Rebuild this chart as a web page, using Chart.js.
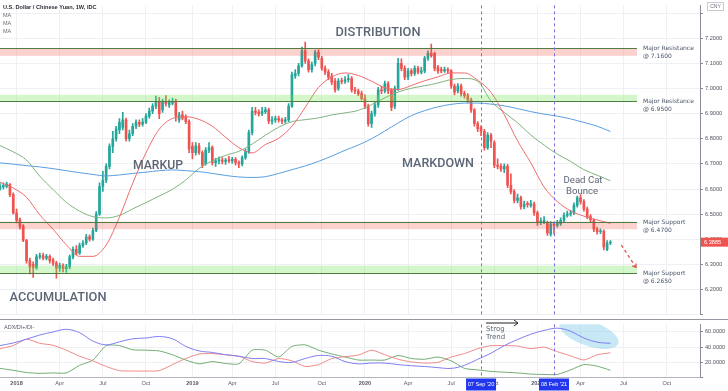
<!DOCTYPE html>
<html>
<head>
<meta charset="utf-8">
<script src="https://cdn.jsdelivr.net/npm/chart.js@4.4.0/dist/chart.umd.min.js"></script>
<style>
  html, body { margin: 0; padding: 0; background: #fff; }
  #wrap { position: relative; width: 728px; height: 391px; overflow: hidden; }
  canvas { position: absolute; left: 0; }
  #main { top: 0; }
  #adx { top: 319px; }
</style>
</head>
<body>
<div id="wrap">
  <canvas id="main" width="728" height="320"></canvas>
  <canvas id="adx" width="728" height="72"></canvas>
</div>
<script>
// weekly candles, USD/CNY, starting week of 27 Nov 2017
const opens = [
  6.600,6.608,6.610,6.618,6.578,6.505,6.478,6.452,6.395,6.315,
  6.300,6.287,6.330,6.335,6.325,6.332,6.318,6.305,6.285,6.295,
  6.283,6.290,6.330,6.360,6.345,6.375,6.385,6.410,6.400,6.435,
  6.500,6.610,6.635,6.690,6.770,6.800,6.835,6.845,6.875,6.800,
  6.820,6.850,6.865,6.858,6.866,6.890,6.910,6.930,6.945,6.915,
  6.945,6.935,6.942,6.950,6.875,6.895,6.885,6.868,6.770,6.745,
  6.772,6.745,6.700,6.755,6.765,6.705,6.712,6.715,6.710,6.715,
  6.712,6.718,6.705,6.700,6.725,6.750,6.825,6.910,6.905,6.900,
  6.908,6.915,6.870,6.875,6.880,6.875,6.870,6.875,6.930,7.050,
  7.060,7.090,7.150,7.110,7.075,7.100,7.145,7.120,7.080,7.065,
  7.050,7.030,7.000,7.030,7.028,7.035,7.040,6.995,6.990,6.980,
  6.960,6.930,6.860,6.900,6.935,6.995,6.990,7.020,6.995,6.930,
  7.000,7.100,7.080,7.045,7.070,7.060,7.080,7.065,7.070,7.120,
  7.140,7.140,7.085,7.075,7.070,7.075,7.070,7.010,6.990,7.010,
  6.980,6.972,6.955,6.915,6.860,6.845,6.830,6.765,6.815,6.785,
  6.695,6.690,6.680,6.690,6.615,6.590,6.555,6.565,6.530,6.540,
  6.535,6.540,6.505,6.467,6.470,6.465,6.420,6.460,6.455,6.462,
  6.475,6.495,6.500,6.505,6.535,6.565,6.550,6.520,6.490,6.475,
  6.440,6.430,6.432,6.360,6.385
];
const closes = [
  6.612,6.615,6.620,6.578,6.505,6.475,6.450,6.395,6.315,6.290,
  6.287,6.330,6.335,6.325,6.332,6.315,6.305,6.285,6.295,6.283,
  6.290,6.330,6.360,6.345,6.375,6.385,6.410,6.400,6.435,6.500,
  6.610,6.635,6.690,6.770,6.800,6.840,6.865,6.875,6.800,6.820,
  6.850,6.865,6.858,6.866,6.890,6.910,6.930,6.945,6.900,6.945,
  6.940,6.945,6.948,6.890,6.895,6.882,6.868,6.760,6.745,6.772,
  6.745,6.695,6.755,6.765,6.705,6.712,6.715,6.710,6.715,6.712,
  6.718,6.705,6.700,6.725,6.750,6.825,6.910,6.905,6.900,6.908,
  6.915,6.870,6.875,6.880,6.875,6.870,6.875,6.930,7.055,7.060,
  7.090,7.150,7.110,7.075,7.095,7.145,7.125,7.080,7.065,7.045,
  7.025,6.995,7.030,7.028,7.035,7.040,6.995,6.990,6.980,6.960,
  6.930,6.860,6.900,6.935,6.995,6.990,7.020,6.990,6.925,7.000,
  7.100,7.080,7.045,7.070,7.060,7.080,7.065,7.070,7.120,7.140,
  7.130,7.080,7.070,7.070,7.075,7.070,7.010,6.985,7.010,6.980,
  6.972,6.955,6.915,6.860,6.840,6.830,6.765,6.815,6.790,6.695,
  6.690,6.680,6.690,6.615,6.590,6.555,6.565,6.530,6.540,6.538,
  6.542,6.505,6.467,6.473,6.475,6.425,6.460,6.455,6.462,6.475,
  6.495,6.500,6.505,6.535,6.565,6.550,6.520,6.490,6.478,6.440,
  6.430,6.432,6.370,6.385,6.3885
];
const highs = [
  6.622,6.625,6.628,6.622,6.585,6.520,6.485,6.458,6.400,6.325,
  6.310,6.340,6.345,6.345,6.340,6.338,6.325,6.312,6.305,6.302,
  6.300,6.338,6.370,6.375,6.385,6.395,6.420,6.418,6.445,6.510,
  6.625,6.670,6.700,6.780,6.830,6.850,6.880,6.905,6.882,6.835,
  6.860,6.875,6.875,6.880,6.900,6.922,6.940,6.970,6.965,6.958,
  6.972,6.955,6.962,6.958,6.905,6.910,6.895,6.875,6.785,6.785,
  6.782,6.752,6.765,6.785,6.772,6.722,6.728,6.725,6.722,6.730,
  6.726,6.725,6.712,6.732,6.760,6.835,6.925,6.925,6.915,6.925,
  6.925,6.922,6.888,6.890,6.890,6.882,6.885,6.940,7.065,7.075,
  7.100,7.165,7.185,7.118,7.105,7.152,7.155,7.128,7.090,7.075,
  7.060,7.040,7.040,7.042,7.048,7.055,7.048,7.005,6.998,6.990,
  6.975,6.938,6.910,6.945,7.005,7.010,7.030,7.028,7.000,7.010,
  7.120,7.118,7.090,7.080,7.078,7.090,7.088,7.085,7.128,7.150,
  7.177,7.145,7.092,7.085,7.085,7.082,7.075,7.018,7.020,7.018,
  6.990,6.980,6.962,6.920,6.868,6.852,6.838,6.825,6.822,6.792,
  6.720,6.700,6.700,6.698,6.660,6.598,6.580,6.572,6.552,6.550,
  6.555,6.548,6.512,6.485,6.490,6.472,6.470,6.468,6.475,6.485,
  6.505,6.512,6.515,6.545,6.572,6.578,6.558,6.528,6.498,6.480,
  6.448,6.442,6.438,6.395,6.395
];
const lows = [
  6.595,6.600,6.604,6.570,6.500,6.465,6.440,6.390,6.305,6.262,
  6.248,6.280,6.322,6.318,6.318,6.305,6.295,6.245,6.272,6.270,
  6.268,6.282,6.322,6.338,6.340,6.368,6.378,6.392,6.395,6.430,
  6.495,6.590,6.625,6.680,6.745,6.790,6.820,6.835,6.790,6.790,
  6.812,6.840,6.848,6.850,6.860,6.882,6.900,6.920,6.880,6.905,
  6.930,6.925,6.935,6.870,6.865,6.875,6.860,6.745,6.720,6.735,
  6.738,6.685,6.695,6.745,6.695,6.690,6.700,6.700,6.698,6.705,
  6.702,6.695,6.685,6.692,6.718,6.742,6.815,6.895,6.890,6.892,
  6.900,6.860,6.858,6.865,6.866,6.860,6.862,6.868,6.925,7.040,
  7.050,7.085,7.100,7.065,7.065,7.090,7.115,7.072,7.055,7.035,
  7.015,6.985,6.992,7.018,7.020,7.025,6.985,6.980,6.972,6.955,
  6.920,6.850,6.845,6.890,6.925,6.980,6.982,6.980,6.912,6.920,
  6.992,7.070,7.035,7.035,7.050,7.052,7.058,7.058,7.062,7.112,
  7.125,7.070,7.060,7.062,7.064,7.062,7.000,6.975,6.982,6.970,
  6.962,6.945,6.905,6.850,6.828,6.812,6.755,6.758,6.765,6.685,
  6.680,6.670,6.665,6.605,6.580,6.545,6.545,6.520,6.522,6.528,
  6.528,6.495,6.455,6.458,6.462,6.415,6.412,6.420,6.448,6.455,
  6.468,6.488,6.492,6.498,6.528,6.540,6.512,6.482,6.470,6.430,
  6.420,6.422,6.358,6.355,6.378
];

// moving averages, read every 4th week
const MA_STEP = 4;
const maFast = [6.627,6.604,6.567,6.497,6.440,6.378,6.332,6.332,6.377,6.488,6.623,6.744,6.838,6.881,6.888,6.877,
  6.850,6.806,6.765,6.744,6.777,6.802,6.850,6.925,7.004,7.046,7.062,7.052,7.029,7.003,6.996,7.012,7.031,7.046,
  7.062,7.062,7.033,6.985,6.896,6.792,6.704,6.608,6.550,6.513,6.492,6.477,6.463];
const maMid = [6.773,6.748,6.715,6.651,6.598,6.547,6.512,6.490,6.485,6.495,6.521,6.546,6.572,6.599,6.636,6.682,
  6.712,6.734,6.750,6.779,6.814,6.846,6.868,6.876,6.883,6.895,6.903,6.913,6.936,6.963,6.986,7.001,7.011,7.022,
  7.036,7.040,7.029,6.950,6.905,6.864,6.815,6.775,6.739,6.710,6.677,6.655,6.633];
const maSlow = [6.704,6.699,6.693,6.688,6.681,6.673,6.665,6.658,6.652,6.656,6.662,6.667,6.673,6.676,6.673,6.669,
  6.662,6.654,6.648,6.646,6.649,6.662,6.677,6.692,6.710,6.731,6.754,6.775,6.800,6.831,6.863,6.892,6.912,6.927,
  6.937,6.942,6.942,6.938,6.931,6.920,6.908,6.898,6.890,6.879,6.865,6.850,6.829];

// ADX / DI+ / DI- panel, every 4th week
const adxLine = [42,45.5,50.5,56,60,63.5,59,48,43,47,51,52,54,51,41,35,33,30,28,25,25,21,20,25,29,28,21,18,19,19,
  17,15.5,14.5,13,12,16,24,32,42,50,57,62,65,61,52,46.5,45];
const diPlus = [38,42,50.5,45,42.5,36,28,22,14.5,9,8.5,8.5,9,17,25,31,31.5,30,28,21,19,25,22,14.5,17,25,27.5,29.5,
  36,30,24,20.5,19,20,27,31.5,38,42,42,41.5,38,40,34,28.5,23,30,32.5];
const diMinus = [12,9.5,6.5,5.5,6,6,16,23,42,42,36.5,36,35,30,23,18,21,18.5,18,36,36,27,41,43,36,31,27,23,23,23,
  29,25,24,27,22,12,10,8,7,6,4.5,4,4,10,17,15,9.5];

// support / resistance zones
const zoneLevels = [7.16, 6.95, 6.47, 6.265];
const zoneEdges  = [7.13, 6.975, 6.44, 6.295];
const zoneNames  = ['Major Resistance', 'Major Resistance', 'Major Support', 'Major Support'];
const markerWeeks = ['2020-09-07', '2021-02-08'];
const projection = [[187.3, 6.377], [191.7, 6.288]];
const zoneEndWeek = 192;

// week labels
const labels = [];
for (let i = 0; i < 212; i++) {
  const d = new Date(Date.UTC(2017, 10, 27) + i * 7 * 86400000);
  labels.push(d.toISOString().slice(0, 10));
}
const MONTHS = ['Jan','Feb','Mar','Apr','May','Jun','Jul','Aug','Sep','Oct','Nov','Dec'];
function quarterLabel(i) {
  if (!i) return '';
  const m = +labels[i].slice(5, 7) - 1;
  const pm = +labels[i - 1].slice(5, 7) - 1;
  if (m === pm || m % 3 !== 0) return '';
  return m === 0 ? labels[i].slice(0, 4) : MONTHS[m];
}
function dateBoxText(s) {
  return s.slice(8, 10) + ' ' + MONTHS[+s.slice(5, 7) - 1] + " '" + s.slice(2, 4);
}
const markerIdx = markerWeeks.map(w => labels.indexOf(w));

const UP = '#26a69a', DOWN = '#ef5350';
const candleColors = opens.map((o, i) => closes[i] >= o ? UP : DOWN);
const sampled = arr => arr.map((v, k) => ({ x: labels[k * MA_STEP], y: v }));

function fitFont(ctx, text, width, weight, family) {
  ctx.font = weight + ' 10px ' + family;
  const size = 10 * width / ctx.measureText(text).width;
  return weight + ' ' + size.toFixed(2) + 'px ' + family;
}

function xAxis(showLabels) {
  return {
    type: 'category',
    offset: false,
    afterBuildTicks: s => { s.ticks = s.ticks.filter(t => quarterLabel(t.value) !== ''); },
    grid: { color: '#eef0f4', drawTicks: false, offset: false },
    border: { display: showLabels, color: '#b2b5be' },
    ticks: {
      display: showLabels, autoSkip: false, maxRotation: 0, padding: 3,
      color: '#555a66',
      font: c => ({ family: 'Liberation Sans', size: 5.6,
        weight: /^\d/.test(quarterLabel(c.tick ? c.tick.value : 0)) ? 'bold' : 'normal' }),
      callback: v => quarterLabel(v)
    },
    afterFit: s => { s.height = showLabels ? 13.5 : 0; }
  };
}

const textGray = '#5c6675';

const mainDecor = {
  id: 'mainDecor',
  afterDatasetsDraw(chart) {
    const { ctx, chartArea: a, scales: { x, y } } = chart;
    const xEnd = x.getPixelForValue(zoneEndWeek);
    ctx.save();
    // zones
    zoneLevels.forEach((lv, i) => {
      const e = zoneEdges[i];
      const y1 = y.getPixelForValue(Math.max(lv, e));
      const y2 = y.getPixelForValue(Math.min(lv, e));
      ctx.fillStyle = e < lv ? 'rgba(244,67,54,0.24)' : 'rgba(110,225,80,0.30)';
      ctx.fillRect(a.left, y1, xEnd - a.left, y2 - y1);
      const yl = Math.round(y.getPixelForValue(lv)) + 0.5;
      ctx.strokeStyle = '#4f7d3f';
      ctx.lineWidth = 1;
      ctx.beginPath(); ctx.moveTo(a.left, yl); ctx.lineTo(xEnd, yl); ctx.stroke();
      ctx.fillStyle = '#4a5568';
      ctx.font = '6px "DejaVu Sans"';
      ctx.textAlign = 'left';
      ctx.textBaseline = 'middle';
      ctx.fillText(zoneNames[i], xEnd + 6, yl);
      ctx.fillText('@ ' + lv.toFixed(4), xEnd + 6, yl + 7.5);
    });
    // date markers
    ctx.strokeStyle = '#7a70d8';
    ctx.lineWidth = 1;
    ctx.setLineDash([3, 3]);
    markerIdx.forEach(i => {
      const px = Math.round(x.getPixelForValue(i)) + 0.5;
      ctx.beginPath(); ctx.moveTo(px, a.top); ctx.lineTo(px, a.bottom); ctx.stroke();
    });
    // projection
    const p0 = [x.getPixelForValue(projection[0][0]), y.getPixelForValue(projection[0][1])];
    const p1 = [x.getPixelForValue(projection[1][0]), y.getPixelForValue(projection[1][1])];
    ctx.strokeStyle = '#e05252';
    ctx.lineWidth = 1.3;
    ctx.beginPath(); ctx.moveTo(p0[0], p0[1]); ctx.lineTo(p1[0], p1[1]); ctx.stroke();
    ctx.setLineDash([]);
    const ang = Math.atan2(p1[1] - p0[1], p1[0] - p0[0]);
    ctx.beginPath();
    ctx.moveTo(p1[0] - 4 * Math.cos(ang - 0.6), p1[1] - 4 * Math.sin(ang - 0.6));
    ctx.lineTo(p1[0], p1[1]);
    ctx.lineTo(p1[0] - 4 * Math.cos(ang + 0.6), p1[1] - 4 * Math.sin(ang + 0.6));
    ctx.stroke();
    // phase texts
    ctx.fillStyle = textGray;
    ctx.textAlign = 'center';
    ctx.textBaseline = 'middle';
    [['ACCUMULATION', 58, 298, 97], ['MARKUP', 158, 166, 50],
     ['DISTRIBUTION', 378, 33, 85], ['MARKDOWN', 438, 164, 72]].forEach(t => {
      ctx.font = fitFont(ctx, t[0], t[3], '500', 'Roboto');
      ctx.fillText(t[0], t[1], t[2]);
    });
    ctx.font = fitFont(ctx, 'Dead Cat', 39, '400', 'Roboto');
    ctx.fillText('Dead Cat', 583, 181);
    ctx.fillText('Bounce', 582, 191.5);
    ctx.restore();
  },
  afterDraw(chart) {
    const { ctx, scales: { y } } = chart;
    ctx.save();
    ctx.textAlign = 'left';
    ctx.textBaseline = 'middle';
    ctx.fillStyle = '#2a2e39';
    ctx.font = '600 5.6px "Liberation Sans"';
    ctx.fillText('U.S. Dollar / Chinese Yuan, 1W, IDC', 3, 7.3);
    ctx.fillStyle = '#6a6d78';
    ctx.font = '5.5px "Liberation Sans"';
    ['MA', 'MA', 'MA'].forEach((t, i) => ctx.fillText(t, 3, 15.3 + i * 8.2));
    // last price tag
    const last = closes[closes.length - 1];
    const py = y.getPixelForValue(last);
    ctx.fillStyle = DOWN;
    ctx.fillRect(701, py - 4.5, 27, 9);
    ctx.fillStyle = '#fff';
    ctx.font = '5.6px "Liberation Sans"';
    ctx.fillText(last.toFixed(4), 704, py + 0.3);
    // currency box
    ctx.fillStyle = '#fff';
    ctx.strokeStyle = '#c8cad0';
    ctx.lineWidth = 1;
    ctx.fillRect(707.5, 2.5, 16, 8);
    ctx.strokeRect(707.5, 2.5, 16, 8);
    ctx.fillStyle = '#6a6d78';
    ctx.font = '5px "Liberation Sans"';
    ctx.textAlign = 'center';
    ctx.fillText('CNY', 715.5, 6.8);
    ctx.restore();
  }
};

const adxDecor = {
  id: 'adxDecor',
  beforeDatasetsDraw(chart) {
    const { ctx, chartArea: a } = chart;
    ctx.save();
    ctx.beginPath(); ctx.rect(a.left, a.top, a.right - a.left, a.bottom - a.top); ctx.clip();
    ctx.fillStyle = 'rgba(110,195,230,0.38)';
    ctx.beginPath();
    ctx.ellipse(589, 14.5, 31, 12.5, 0.33, 0, Math.PI * 2);
    ctx.fill();
    ctx.restore();
  },
  afterDatasetsDraw(chart) {
    const { ctx, chartArea: a, scales: { x } } = chart;
    ctx.save();
    ctx.strokeStyle = '#7a70d8';
    ctx.lineWidth = 1;
    ctx.setLineDash([3, 3]);
    markerIdx.forEach(i => {
      const px = Math.round(x.getPixelForValue(i)) + 0.5;
      ctx.beginPath(); ctx.moveTo(px, a.top); ctx.lineTo(px, a.bottom); ctx.stroke();
    });
    ctx.setLineDash([]);
    ctx.textAlign = 'left';
    ctx.textBaseline = 'middle';
    ctx.fillStyle = '#555a66';
    ctx.font = '5.5px "Liberation Sans"';
    ctx.fillText('ADX/DI+/DI-', 4, 8);
    ctx.fillStyle = textGray;
    ctx.font = '7px "DejaVu Sans"';
    ctx.fillText('Strog', 486, 10);
    ctx.fillText('Trend', 486, 18);
    // arrow
    ctx.strokeStyle = '#222';
    ctx.lineWidth = 1;
    ctx.beginPath(); ctx.moveTo(486, 4); ctx.lineTo(518, 4); ctx.stroke();
    ctx.beginPath(); ctx.moveTo(514, 1); ctx.lineTo(518, 4); ctx.lineTo(514, 7); ctx.stroke();
    ctx.restore();
  },
  afterDraw(chart) {
    const { ctx, chartArea: a, scales: { x } } = chart;
    ctx.save();
    ctx.strokeStyle = '#9598a1';
    ctx.lineWidth = 1;
    ctx.beginPath(); ctx.moveTo(0, 0.5); ctx.lineTo(728, 0.5); ctx.stroke();
    ctx.textAlign = 'center';
    ctx.textBaseline = 'middle';
    ctx.font = '5.6px "Liberation Sans"';
    markerIdx.forEach(i => {
      const px = x.getPixelForValue(i);
      ctx.fillStyle = '#2236f0';
      ctx.fillRect(px - 15, a.bottom + 1, 30, 12);
      ctx.fillStyle = '#fff';
      ctx.fillText(dateBoxText(labels[i]), px, a.bottom + 7);
    });
    ctx.restore();
  }
};

new Chart(document.getElementById('main'), {
  type: 'bar',
  data: {
    labels: labels,
    datasets: [
      { type: 'line', data: sampled(maFast), borderColor: '#ee6c6c', borderWidth: 1, pointRadius: 0,
        tension: 0.4, cubicInterpolationMode: 'monotone', order: 0 },
      { type: 'line', data: sampled(maMid), borderColor: '#80b380', borderWidth: 1, pointRadius: 0,
        tension: 0.4, cubicInterpolationMode: 'monotone', order: 0 },
      { type: 'line', data: sampled(maSlow), borderColor: '#5a9ee0', borderWidth: 1, pointRadius: 0,
        tension: 0.4, cubicInterpolationMode: 'monotone', order: 0 },
      { data: opens.map((o, i) => [o, closes[i]]), backgroundColor: candleColors,
        barThickness: 2, minBarLength: 1, grouped: false, order: 1 },
      { data: lows.map((l, i) => [l, highs[i]]), backgroundColor: candleColors,
        barThickness: 1, grouped: false, order: 2 }
    ]
  },
  options: {
    responsive: false,
    devicePixelRatio: 1,
    animation: false,
    layout: { padding: 0 },
    plugins: { legend: { display: false }, tooltip: { enabled: false } },
    scales: {
      x: xAxis(false),
      y: {
        position: 'right',
        min: 6.1, max: 7.331,
        grid: { color: '#eef0f4', tickLength: 3, tickColor: '#8a8d96' },
        border: { color: '#8a8d96' },
        ticks: {
          stepSize: 0.1, includeBounds: false, padding: 2, color: '#50535e',
          font: { family: 'Liberation Sans', size: 5.6 },
          callback: v => (v > 7.25 || v < 6.15) ? '' : v.toFixed(4)
        },
        afterFit: s => { s.width = 28; }
      }
    }
  },
  plugins: [mainDecor]
});

new Chart(document.getElementById('adx'), {
  type: 'line',
  data: {
    labels: labels,
    datasets: [
      { data: sampled(adxLine), borderColor: '#7f7ff0', borderWidth: 1, pointRadius: 0, tension: 0.35 },
      { data: sampled(diPlus), borderColor: '#f08a8a', borderWidth: 1, pointRadius: 0, tension: 0.2 },
      { data: sampled(diMinus), borderColor: '#72ad72', borderWidth: 1, pointRadius: 0, tension: 0.2 }
    ]
  },
  options: {
    responsive: false,
    devicePixelRatio: 1,
    animation: false,
    layout: { padding: 0 },
    plugins: { legend: { display: false }, tooltip: { enabled: false } },
    scales: {
      x: xAxis(true),
      y: {
        position: 'right',
        min: 0, max: 70,
        grid: { color: '#eef0f4', tickLength: 3, tickColor: '#8a8d96' },
        border: { color: '#8a8d96' },
        ticks: {
          stepSize: 20, includeBounds: false, padding: 2, color: '#50535e',
          font: { family: 'Liberation Sans', size: 5.6 },
          callback: v => (v === 0 || v > 65) ? '' : v.toFixed(4)
        },
        afterFit: s => { s.width = 28; }
      }
    }
  },
  plugins: [adxDecor]
});
</script>
</body>
</html>
